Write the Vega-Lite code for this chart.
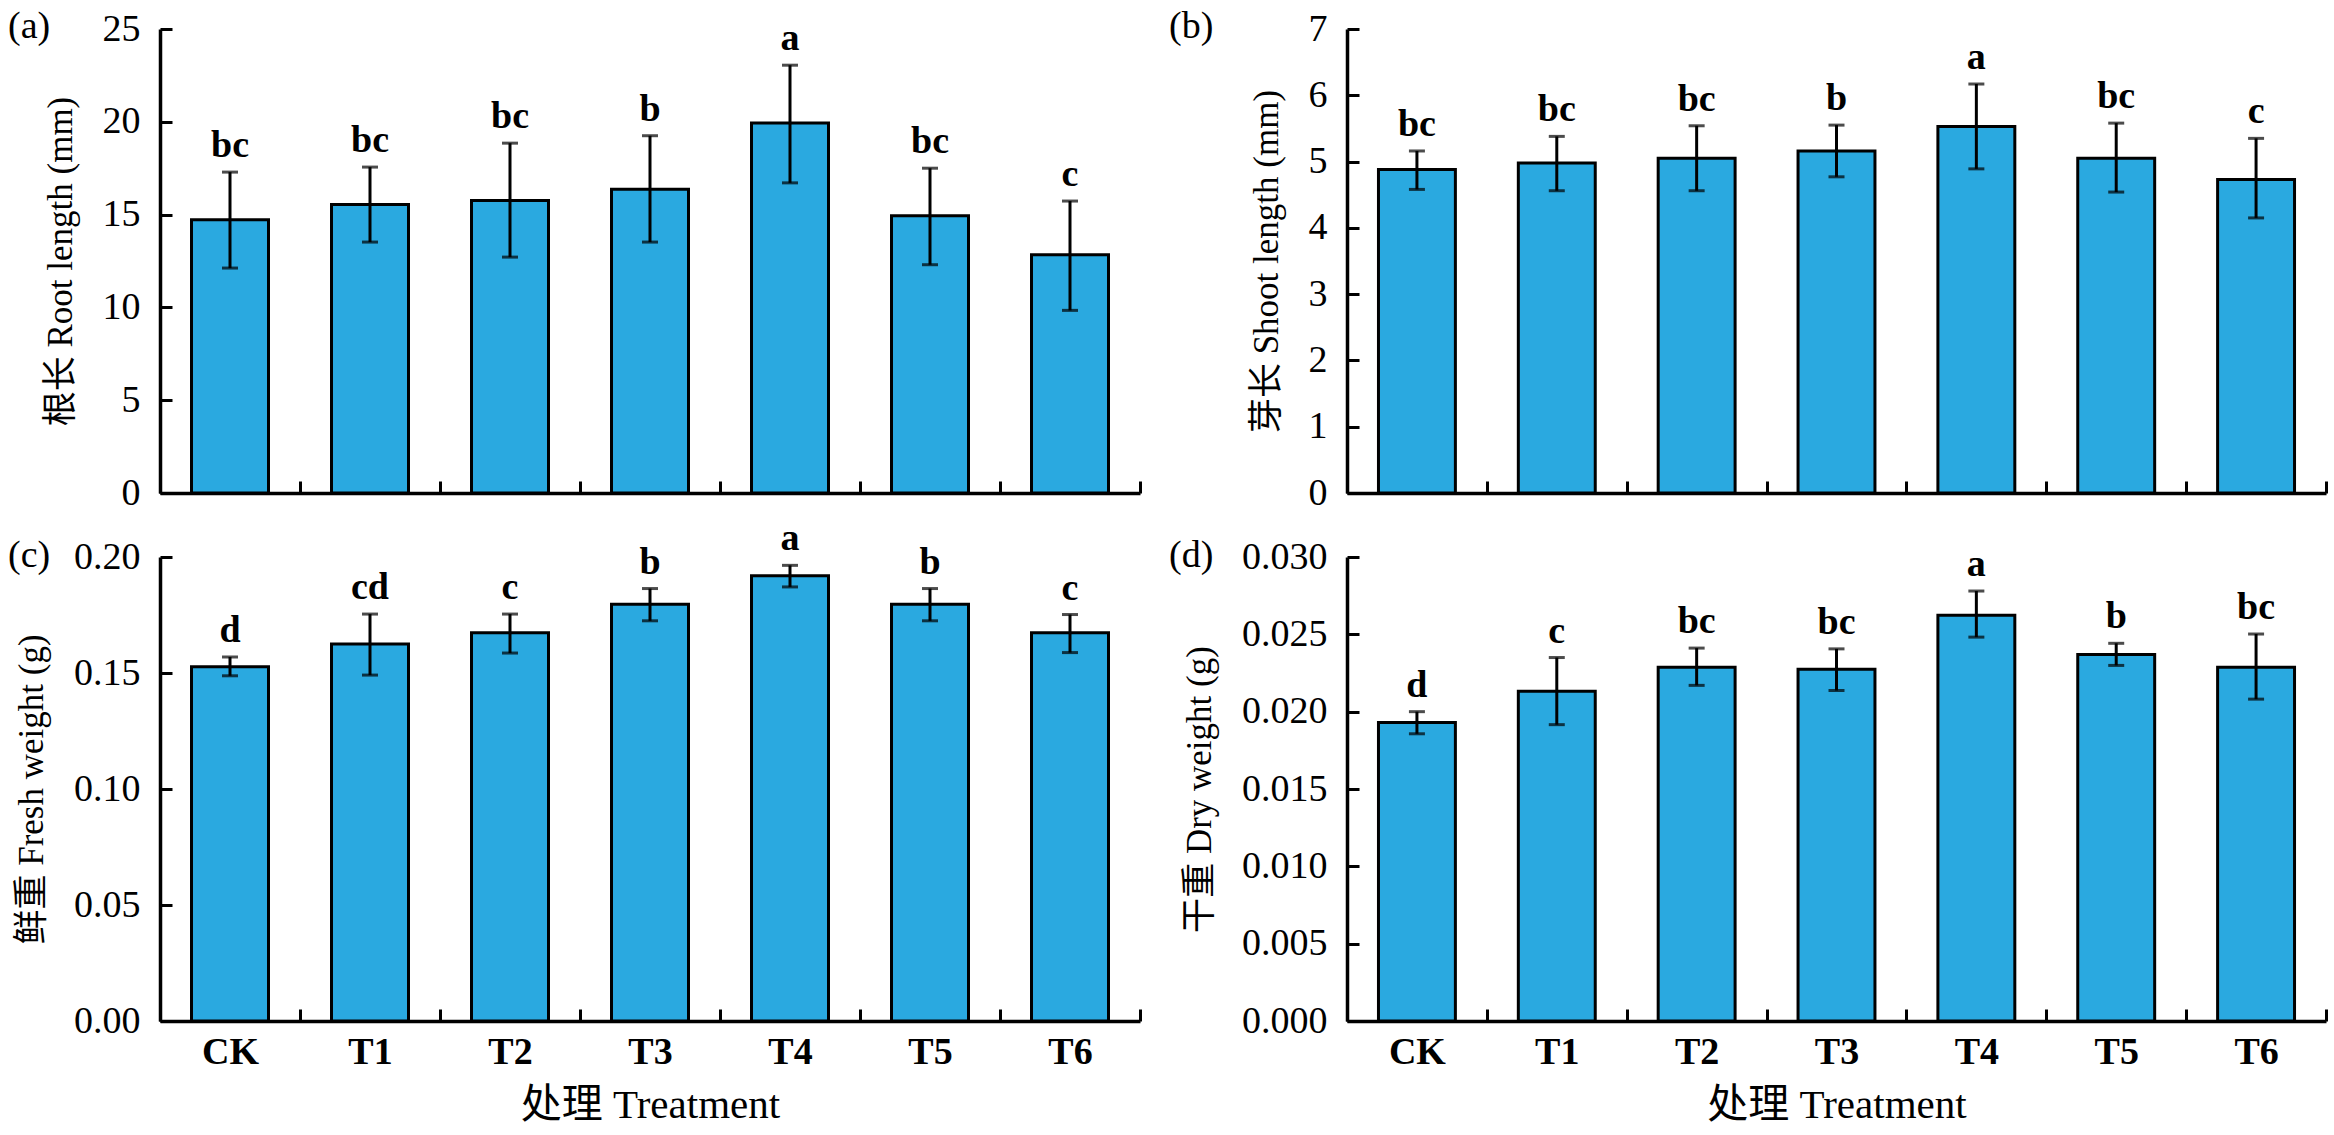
{
  "$schema": "https://vega.github.io/schema/vega-lite/v6.json",
  "background": "white",
  "padding": {"left": 8, "top": 8, "right": 4, "bottom": 2},
  "bounds": "flush",
  "datasets": {
    "rootlen": [
      {"trt": "CK", "mean": 14.72, "lo": 12.12, "hi": 17.29, "sig": "bc"},
      {"trt": "T1", "mean": 15.55, "lo": 13.52, "hi": 17.56, "sig": "bc"},
      {"trt": "T2", "mean": 15.76, "lo": 12.71, "hi": 18.85, "sig": "bc"},
      {"trt": "T3", "mean": 16.37, "lo": 13.52, "hi": 19.25, "sig": "b"},
      {"trt": "T4", "mean": 19.93, "lo": 16.71, "hi": 23.05, "sig": "a"},
      {"trt": "T5", "mean": 14.94, "lo": 12.30, "hi": 17.50, "sig": "bc"},
      {"trt": "T6", "mean": 12.84, "lo": 9.84, "hi": 15.73, "sig": "c"}
    ],
    "shootlen": [
      {"trt": "CK", "mean": 4.88, "lo": 4.58, "hi": 5.16, "sig": "bc"},
      {"trt": "T1", "mean": 4.98, "lo": 4.56, "hi": 5.38, "sig": "bc"},
      {"trt": "T2", "mean": 5.05, "lo": 4.56, "hi": 5.54, "sig": "bc"},
      {"trt": "T3", "mean": 5.16, "lo": 4.77, "hi": 5.55, "sig": "b"},
      {"trt": "T4", "mean": 5.53, "lo": 4.89, "hi": 6.17, "sig": "a"},
      {"trt": "T5", "mean": 5.05, "lo": 4.54, "hi": 5.58, "sig": "bc"},
      {"trt": "T6", "mean": 4.73, "lo": 4.15, "hi": 5.35, "sig": "c"}
    ],
    "freshwt": [
      {"trt": "CK", "mean": 0.1527, "lo": 0.1488, "hi": 0.1569, "sig": "d"},
      {"trt": "T1", "mean": 0.1625, "lo": 0.1491, "hi": 0.1754, "sig": "cd"},
      {"trt": "T2", "mean": 0.1673, "lo": 0.1586, "hi": 0.1754, "sig": "c"},
      {"trt": "T3", "mean": 0.1796, "lo": 0.1725, "hi": 0.1864, "sig": "b"},
      {"trt": "T4", "mean": 0.1919, "lo": 0.1871, "hi": 0.1964, "sig": "a"},
      {"trt": "T5", "mean": 0.1796, "lo": 0.1725, "hi": 0.1864, "sig": "b"},
      {"trt": "T6", "mean": 0.1673, "lo": 0.1588, "hi": 0.1752, "sig": "c"}
    ],
    "drywt": [
      {"trt": "CK", "mean": 0.0193, "lo": 0.01857, "hi": 0.0200, "sig": "d"},
      {"trt": "T1", "mean": 0.02132, "lo": 0.01916, "hi": 0.0235, "sig": "c"},
      {"trt": "T2", "mean": 0.02287, "lo": 0.0217, "hi": 0.02411, "sig": "bc"},
      {"trt": "T3", "mean": 0.02274, "lo": 0.02137, "hi": 0.02406, "sig": "bc"},
      {"trt": "T4", "mean": 0.02624, "lo": 0.02482, "hi": 0.0278, "sig": "a"},
      {"trt": "T5", "mean": 0.0237, "lo": 0.02299, "hi": 0.02442, "sig": "b"},
      {"trt": "T6", "mean": 0.02287, "lo": 0.02081, "hi": 0.02502, "sig": "bc"}
    ]
  },
  "columns": 2,
  "spacing": {"row": 64, "column": 207},
  "concat": [
    {
      "data": {"name": "rootlen"},
      "width": 980,
      "height": 464,
      "title": {"text": "(a)", "dx": -152, "offset": -36},
      "encoding": {
        "x": {"field": "trt", "type": "nominal", "sort": null, "scale": {"paddingInner": 0, "paddingOuter": 0},
              "axis": {"labels": false, "title": null}}
      },
      "layer": [
        {
          "mark": {"type": "bar", "width": {"band": 0.55}, "fill": "#2aa9e0", "stroke": "black", "strokeWidth": 3},
          "encoding": {
            "y": {"field": "mean", "type": "quantitative", "title": "根长 Root length (mm)",
                  "scale": {"domain": [0, 25], "nice": false},
                  "axis": {"values": [0, 5, 10, 15, 20, 25]}}
          }
        },
        {
          "mark": {"type": "errorbar", "ticks": true, "size": 16, "thickness": 3, "color": "black"},
          "encoding": {
            "y": {"field": "lo", "type": "quantitative", "title": "根长 Root length (mm)"},
            "y2": {"field": "hi"}
          }
        },
        {
          "mark": {"type": "text", "baseline": "alphabetic", "dy": -15, "fontSize": 38, "fontWeight": "bold"},
          "encoding": {
            "y": {"field": "hi", "type": "quantitative", "title": "根长 Root length (mm)"},
            "text": {"field": "sig"}
          }
        }
      ]
    },
    {
      "data": {"name": "shootlen"},
      "width": 979,
      "height": 464,
      "title": {"text": "(b)", "dx": -178, "offset": -36},
      "encoding": {
        "x": {"field": "trt", "type": "nominal", "sort": null, "scale": {"paddingInner": 0, "paddingOuter": 0},
              "axis": {"labels": false, "title": null}}
      },
      "layer": [
        {
          "mark": {"type": "bar", "width": {"band": 0.55}, "fill": "#2aa9e0", "stroke": "black", "strokeWidth": 3},
          "encoding": {
            "y": {"field": "mean", "type": "quantitative", "title": "芽长 Shoot length (mm)",
                  "scale": {"domain": [0, 7], "nice": false},
                  "axis": {"values": [0, 1, 2, 3, 4, 5, 6, 7], "format": "d"}}
          }
        },
        {
          "mark": {"type": "errorbar", "ticks": true, "size": 16, "thickness": 3, "color": "black"},
          "encoding": {
            "y": {"field": "lo", "type": "quantitative", "title": "芽长 Shoot length (mm)"},
            "y2": {"field": "hi"}
          }
        },
        {
          "mark": {"type": "text", "baseline": "alphabetic", "dy": -15, "fontSize": 38, "fontWeight": "bold"},
          "encoding": {
            "y": {"field": "hi", "type": "quantitative", "title": "芽长 Shoot length (mm)"},
            "text": {"field": "sig"}
          }
        }
      ]
    },
    {
      "data": {"name": "freshwt"},
      "width": 980,
      "height": 464,
      "title": {"text": "(c)", "dx": -152, "offset": -55},
      "encoding": {
        "x": {"field": "trt", "type": "nominal", "sort": null, "scale": {"paddingInner": 0, "paddingOuter": 0},
              "axis": {"title": "处理 Treatment"}}
      },
      "layer": [
        {
          "mark": {"type": "bar", "width": {"band": 0.55}, "fill": "#2aa9e0", "stroke": "black", "strokeWidth": 3},
          "encoding": {
            "y": {"field": "mean", "type": "quantitative", "title": "鲜重 Fresh weight (g)",
                  "scale": {"domain": [0, 0.2], "nice": false},
                  "axis": {"values": [0, 0.05, 0.1, 0.15, 0.2], "format": ".2f"}}
          }
        },
        {
          "mark": {"type": "errorbar", "ticks": true, "size": 16, "thickness": 3, "color": "black"},
          "encoding": {
            "y": {"field": "lo", "type": "quantitative", "title": "鲜重 Fresh weight (g)"},
            "y2": {"field": "hi"}
          }
        },
        {
          "mark": {"type": "text", "baseline": "alphabetic", "dy": -15, "fontSize": 38, "fontWeight": "bold"},
          "encoding": {
            "y": {"field": "hi", "type": "quantitative", "title": "鲜重 Fresh weight (g)"},
            "text": {"field": "sig"}
          }
        }
      ]
    },
    {
      "data": {"name": "drywt"},
      "width": 979,
      "height": 464,
      "title": {"text": "(d)", "dx": -178, "offset": -37},
      "encoding": {
        "x": {"field": "trt", "type": "nominal", "sort": null, "scale": {"paddingInner": 0, "paddingOuter": 0},
              "axis": {"title": "处理 Treatment"}}
      },
      "layer": [
        {
          "mark": {"type": "bar", "width": {"band": 0.55}, "fill": "#2aa9e0", "stroke": "black", "strokeWidth": 3},
          "encoding": {
            "y": {"field": "mean", "type": "quantitative", "title": "干重 Dry weight (g)",
                  "scale": {"domain": [0, 0.03], "nice": false},
                  "axis": {"values": [0, 0.005, 0.01, 0.015, 0.02, 0.025, 0.03], "format": ".3f"}}
          }
        },
        {
          "mark": {"type": "errorbar", "ticks": true, "size": 16, "thickness": 3, "color": "black"},
          "encoding": {
            "y": {"field": "lo", "type": "quantitative", "title": "干重 Dry weight (g)"},
            "y2": {"field": "hi"}
          }
        },
        {
          "mark": {"type": "text", "baseline": "alphabetic", "dy": -15, "fontSize": 38, "fontWeight": "bold"},
          "encoding": {
            "y": {"field": "hi", "type": "quantitative", "title": "干重 Dry weight (g)"},
            "text": {"field": "sig"}
          }
        }
      ]
    }
  ],
  "config": {
    "font": "'Liberation Serif', 'Noto Sans CJK SC'",
    "view": {"stroke": null},
    "title": {"anchor": "start", "frame": "group", "baseline": "middle", "fontSize": 38, "fontWeight": "normal", "color": "black"},
    "text": {"color": "black", "font": "'Liberation Serif', 'Noto Sans CJK SC'"},
    "axis": {
      "grid": false,
      "domainColor": "black",
      "domainWidth": 3.5,
      "tickColor": "black",
      "tickWidth": 3,
      "tickSize": -12,
      "labelColor": "black",
      "labelFontSize": 38,
      "labelFont": "'Liberation Serif', 'Noto Sans CJK SC'",
      "titleFont": "'Liberation Serif', 'Noto Sans CJK SC'",
      "titleFontSize": 38,
      "titleFontWeight": "normal",
      "titleColor": "black"
    },
    "axisX": {"tickBand": "extent", "labelAngle": 0, "labelFontWeight": "bold", "labelPadding": 24, "titlePadding": 14, "titleFontSize": 41},
    "axisY": {"labelPadding": 32, "titlePadding": 24, "titleFontSize": 35}
  }
}
